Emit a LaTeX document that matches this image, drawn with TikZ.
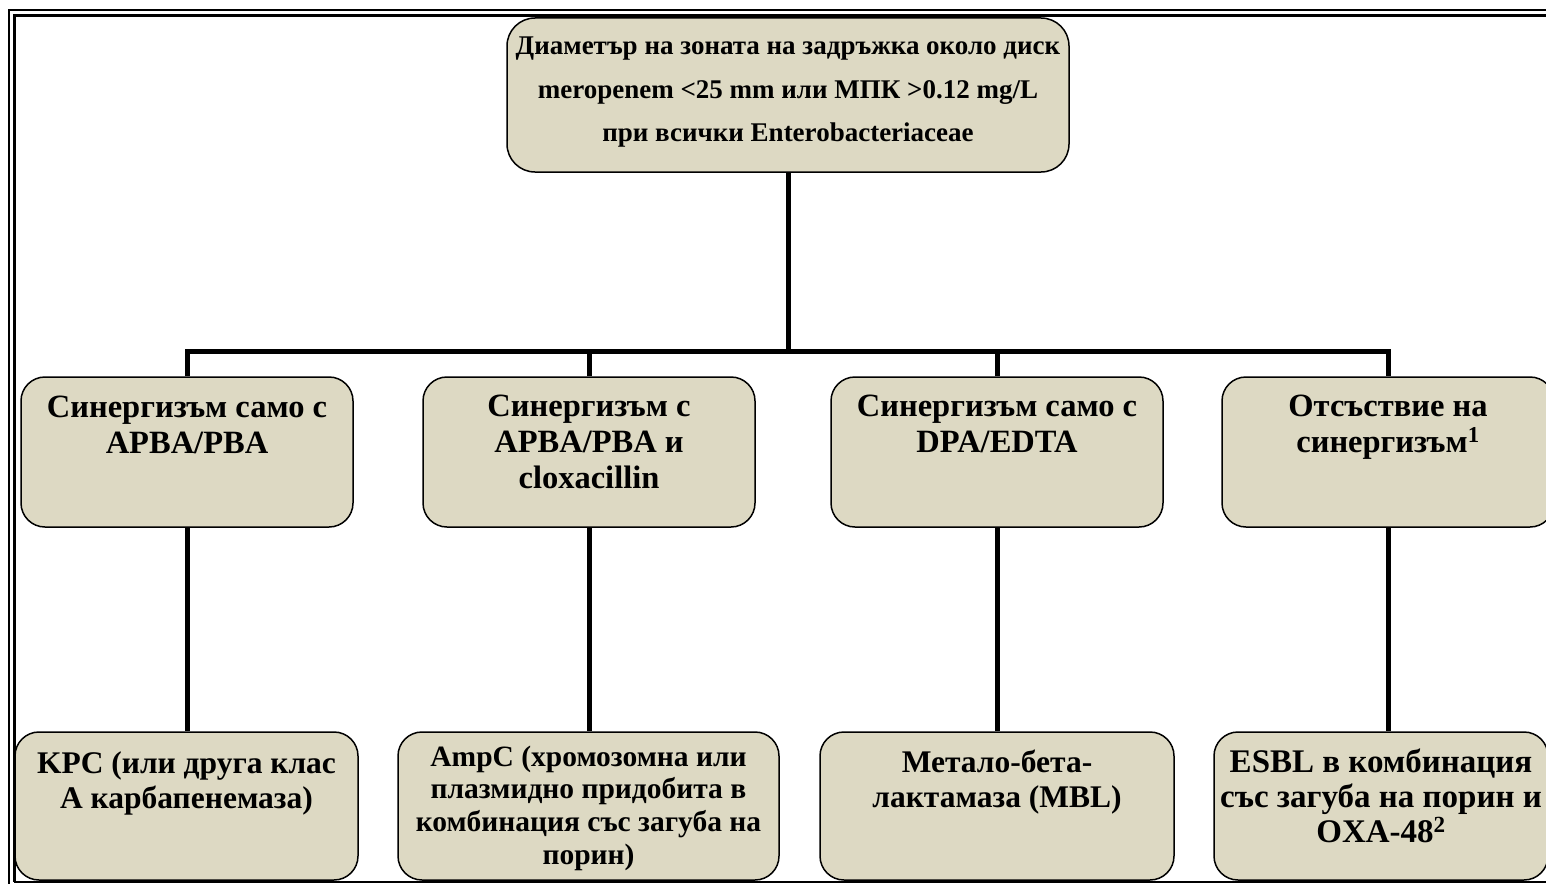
\documentclass[tikz,border=0pt]{standalone}
\usepackage{fontspec}
\setmainfont{Liberation Serif}
\definecolor{boxtan}{HTML}{DDD9C3}
\tikzset{
  box/.style={draw=black, line width=1.5pt, fill=boxtan, rounded corners=24pt, inner sep=0pt},
  conn/.style={draw=black, line width=5pt},
  frameouter/.style={draw=black, line width=2.4pt},
  frameinner/.style={draw=black, line width=3.2pt},
}
\newcommand{\boxtext}[6]{\parbox[t][#2pt][t]{#1pt}{\centering\bfseries\fontsize{#3}{#4}\selectfont\rule{0pt}{#5pt}#6}}
\begin{document}
\begin{tikzpicture}[x=1pt,y=-1pt]
\useasboundingbox (0,0) rectangle (1546,883);
\clip (0,0) rectangle (1546,883);
% frame
\draw[frameouter] (9.2,890) -- (9.2,10.3) -- (1560,10.3);
\draw[frameinner] (14.3,881.5) -- (14.3,15.7) -- (1560,15.7);
\draw[draw=black, line width=2pt] (14.3,881.8) -- (1560,881.8);
% top box
\node[box, rounded corners=28pt] (top) at (788,95) {\boxtext{562}{154}{27}{43.5}{37}{Диаметър на зоната на задръжка около диск\\meropenem <25 mm или МПК >0.12 mg/L\\при всички Enterobacteriaceae}};
% level 2
\node[box] (b1) at (187,452) {\boxtext{332}{150}{32.5}{36}{40}{Синергизъм само с\\APBA/PBA}};
\node[box] (b2) at (589,452) {\boxtext{332}{150}{32.5}{36}{39}{Синергизъм с\\APBA/PBA и\\cloxacillin}};
\node[box] (b3) at (997,452) {\boxtext{332}{150}{32.5}{36}{39}{Синергизъм само с\\DPA/EDTA}};
\node[box] (b4) at (1388,452) {\boxtext{332}{150}{32.5}{36}{39}{Отсъствие на\\синергизъм\textsuperscript{1}}};
% level 3
\node[box] (c1) at (186.5,806) {\boxtext{343}{148}{31.5}{35}{41}{KPC (или друга клас\\A карбапенемаза)}};
\node[box] (c2) at (588.5,806) {\boxtext{381}{148}{29.5}{32.7}{34}{AmpC (хромозомна или\\плазмидно придобита в\\комбинация със загуба на\\порин)}};
\node[box] (c3) at (997,806) {\boxtext{354}{148}{31.5}{35}{40}{Метало-бета-\\лактамаза (MBL)}};
\node[box] (c4) at (1381,806) {\boxtext{334}{148}{33}{35}{40}{ESBL в комбинация\\със загуба на порин и\\OXA-48\textsuperscript{2}}};
% connectors
\coordinate (bar) at (0,351);
\draw[conn] (top.south) -- (top.south |- bar);
\draw[conn] (b1.north) -- (b1.north |- bar) -- (b4.north |- bar) -- (b4.north);
\draw[conn] (b2.north) -- (b2.north |- bar);
\draw[conn] (b3.north) -- (b3.north |- bar);
\draw[conn] (b1.south) -- (b1.south |- c1.north);
\draw[conn] (b2.south) -- (b2.south |- c2.north);
\draw[conn] (b3.south) -- (b3.south |- c3.north);
\draw[conn] (b4.south) -- (b4.south |- c4.north);
\end{tikzpicture}
\end{document}
